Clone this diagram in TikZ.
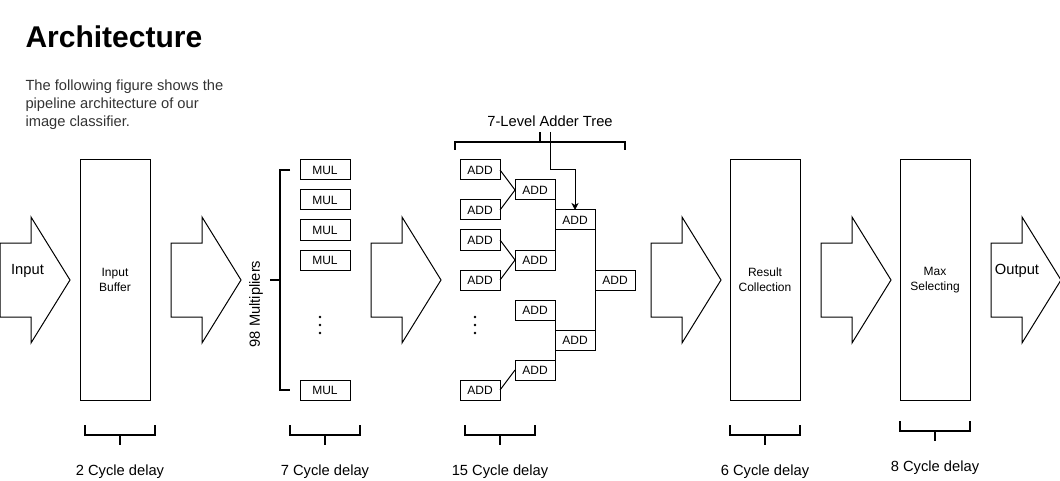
\documentclass[tikz,border=0pt]{standalone}
\usepackage{fontspec}
\setmainfont{Liberation Sans}
\usepackage{tikz}
\usetikzlibrary{arrows.meta,positioning,calc}
\definecolor{bodytext}{HTML}{333333}
\tikzset{
  stagebox/.style={
    draw,
    rectangle,
    minimum width=70pt,
    minimum height=240pt,
    align=center,
    inner sep=0pt,
    font=\fontsize{12}{15}\selectfont
  },
  unitbox/.style={
    draw,
    rectangle,
    minimum width=40pt,
    minimum height=20pt,
    inner sep=0pt,
    outer sep=0pt,
    font=\fontsize{12}{14}\selectfont
  },
  mulbox/.style={unitbox, minimum width=50pt},
  lbl/.style={inner sep=0pt, font=\fontsize{14.7}{18}\selectfont},
  brace/.style={line width=2pt},
  feed/.style={-{Stealth[length=7pt,width=7pt,inset=2pt]},line width=1pt},
  pics/pipearrow/.style={code={
    \draw[line width=1pt] (0,-37) -- (31,-37) -- (31,-63) -- (70,0)
      -- (31,63) -- (31,37) -- (0,37) -- cycle;
  }}
}

\begin{document}
\begin{tikzpicture}[x=1pt,y=-1pt,line width=1pt]
\useasboundingbox (0,0) rectangle (1060,481);

% heading
\node[anchor=base west, inner sep=0pt, font=\fontsize{30}{34}\selectfont\bfseries]
  (title) at (25,48) {Architecture};
\node[lbl, anchor=north west, align=left, text=bodytext] (intro) at (25,79.5)
  {The following figure shows the\\pipeline architecture of our\\image classifier.};

% pipeline arrows
\pic (arrin) at (0,280) {pipearrow};
\pic (arrbuf) at (171,280) {pipearrow};
\pic (arrmul) at (371,280) {pipearrow};
\pic (arradd) at (651,280) {pipearrow};
\pic (arrres) at (821,280) {pipearrow};
\pic (arrout) at (991,280) {pipearrow};
\node[lbl, anchor=base] (inlbl) at (27.5,274) {Input};
\node[lbl, anchor=base] (outlbl) at (1017,274) {Output};

% stages
\node[stagebox] (inbuf) at (115,280) {Input\\Buffer};
\node[stagebox] (rescoll) at (765,280) {Result\\Collection};
\node[stagebox] (maxsel) at (935,280) {Max\\Selecting};

% multipliers
\node[mulbox] (mul1) at (325,170) {MUL};
\node[mulbox, below=10pt of mul1] (mul2) {MUL};
\node[mulbox, below=10pt of mul2] (mul3) {MUL};
\node[mulbox, below=10pt of mul3] (mul4) {MUL};
\node[mulbox] (mul5) at (325,390) {MUL};
\foreach \dy in {-8,0,8}
  \fill (320,325+\dy) circle (1.4pt);

\draw[brace] (290,170) -| (280,390) -- (290,390);
\draw[brace] (280,280) -- (270,280);
\node[lbl, rotate=90] (mullbl) at (256,304) {98 Multipliers};

% adder tree
\node[unitbox] (adda1) at (480,170) {ADD};
\node[unitbox] (adda2) at (480,210) {ADD};
\node[unitbox] (adda3) at (480,240) {ADD};
\node[unitbox] (adda4) at (480,280) {ADD};
\node[unitbox] (adda5) at (480,390) {ADD};
\node[unitbox] (addb1) at (535,190) {ADD};
\node[unitbox] (addb2) at (535,260) {ADD};
\node[unitbox] (addb3) at (535,310) {ADD};
\node[unitbox] (addb4) at (535,370) {ADD};
\node[unitbox] (addc1) at (575,220) {ADD};
\node[unitbox] (addc2) at (575,340) {ADD};
\node[unitbox] (addd1) at (615,280) {ADD};
\foreach \dy in {-8,0,8}
  \fill (475,325+\dy) circle (1.4pt);

\draw (adda1.east) -- (addb1.west);
\draw (adda2.east) -- (addb1.west);
\draw (adda3.east) -- (addb2.west);
\draw (adda4.east) -- (addb2.west);
\draw (adda5.east) -- (addb4.west);
\draw (addb1.east) |- (addc1.west);
\draw (addb2.east) |- (addc1.west);
\draw (addb3.east) |- (addc2.west);
\draw (addb4.east) |- (addc2.west);
\draw (addc1.east) |- (addd1.west);
\draw (addc2.east) |- (addd1.west);

\node[lbl] (treelbl) at (550,121) {7-Level Adder Tree};
\draw[brace] (455,150) |- (625,142) -- (625,150);
\draw[brace] (540,142) -- (540,132);
\coordinate (treein) at (550,132);
\draw[feed] (treein) -- (550,170) -| (addc1.north);

% delays
\foreach \cx/\cy/\n in {120/435/2, 325/435/7, 500/435/15, 765/435/6, 935/431/8}{
  \draw[brace] (\cx-35,\cy-10) |- (\cx+35,\cy) -- (\cx+35,\cy-10);
  \draw[brace] (\cx,\cy) -- (\cx,\cy+10);
  \node[lbl, anchor=base] (delay\n) at (\cx,\cy+40) {\n{} Cycle delay};
}

\end{tikzpicture}
\end{document}
